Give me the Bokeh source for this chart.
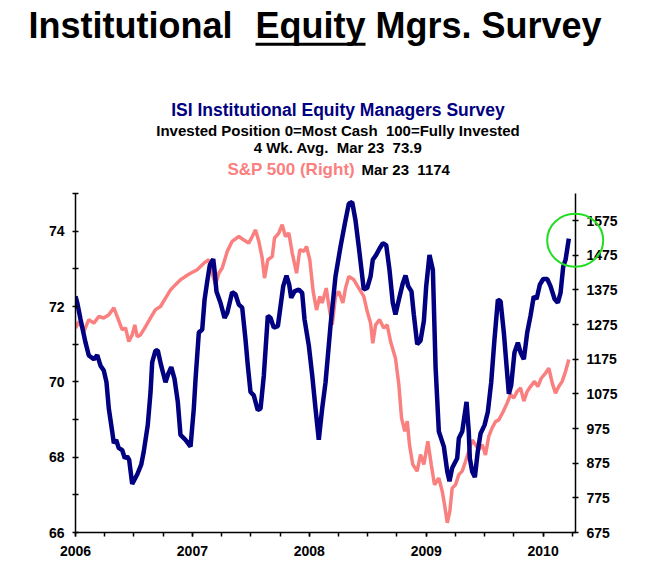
from bokeh.embed import file_html
from bokeh.resources import INLINE
from bokeh.models import ColumnDataSource, Range1d, LinearAxis, FixedTicker
from bokeh.core.properties import value
from bokeh.plotting import figure

# ISI survey, 4 wk avg (left axis), dates as decimal years
survey_dates = [
    2006.000, 2006.015, 2006.043, 2006.086, 2006.114, 2006.157, 2006.186, 2006.214,
    2006.242, 2006.265, 2006.285, 2006.314, 2006.328, 2006.348, 2006.370, 2006.399,
    2006.422, 2006.442, 2006.459, 2006.485, 2006.528, 2006.562, 2006.584, 2006.618,
    2006.642, 2006.656, 2006.684, 2006.704, 2006.733, 2006.770, 2006.793, 2006.819,
    2006.847, 2006.875, 2006.898, 2006.941, 2006.984, 2007.012, 2007.027, 2007.055,
    2007.084, 2007.104, 2007.127, 2007.149, 2007.178, 2007.189, 2007.206, 2007.240,
    2007.275, 2007.298, 2007.340, 2007.369, 2007.397, 2007.426, 2007.454, 2007.474,
    2007.497, 2007.525, 2007.559, 2007.583, 2007.611, 2007.645, 2007.668, 2007.696,
    2007.731, 2007.754, 2007.777, 2007.805, 2007.828, 2007.845, 2007.873, 2007.910,
    2007.939, 2007.959, 2007.996, 2008.025, 2008.053, 2008.081, 2008.110, 2008.139,
    2008.181, 2008.224, 2008.267, 2008.304, 2008.338, 2008.367, 2008.395, 2008.423,
    2008.466, 2008.495, 2008.524, 2008.543, 2008.572, 2008.601, 2008.629, 2008.658,
    2008.686, 2008.714, 2008.737, 2008.766, 2008.800, 2008.823, 2008.846, 2008.874,
    2008.894, 2008.923, 2008.951, 2008.980, 2009.000, 2009.028, 2009.057, 2009.080,
    2009.108, 2009.151, 2009.180, 2009.199, 2009.222, 2009.265, 2009.279, 2009.308,
    2009.345, 2009.364, 2009.373, 2009.393, 2009.416, 2009.441, 2009.465, 2009.499,
    2009.527, 2009.556, 2009.584, 2009.613, 2009.636, 2009.664, 2009.687, 2009.707,
    2009.727, 2009.755, 2009.784, 2009.807, 2009.835, 2009.864, 2009.892, 2009.920,
    2009.944, 2009.972, 2010.001, 2010.035, 2010.063, 2010.098, 2010.126, 2010.149,
    2010.172, 2010.192, 2010.220,
]
survey_values = [
    72.27, 72.10, 71.66, 71.04, 70.70, 70.60, 70.71, 70.43,
    70.30, 69.99, 69.29, 68.68, 68.37, 68.46, 68.24, 68.19,
    67.97, 68.02, 67.93, 67.29, 67.54, 67.80, 68.15, 68.85,
    69.73, 70.52, 70.83, 70.83, 70.43, 69.99, 70.21, 70.39,
    70.08, 69.47, 68.59, 68.46, 68.28, 69.29, 70.08, 71.31,
    71.39, 72.18, 72.67, 73.10, 73.26, 72.97, 72.40, 72.10,
    71.70, 71.83, 72.38, 72.32, 72.05, 71.97, 71.13, 70.43,
    69.73, 69.64, 69.25, 69.29, 70.17, 71.75, 71.70, 71.44,
    71.48, 72.01, 72.54, 72.82, 72.58, 72.23, 72.40, 72.45,
    72.36, 71.66, 70.96, 70.17, 69.29, 68.46, 69.29, 69.99,
    71.48, 72.80, 73.59, 74.20, 74.73, 74.77, 74.29, 73.59,
    72.45, 72.49, 72.80, 73.24, 73.37, 73.54, 73.68, 73.63,
    72.97, 72.10, 71.79, 72.18, 72.62, 72.82, 72.54, 72.40,
    71.79, 71.00, 71.09, 71.62, 72.54, 73.37, 72.97, 70.40,
    68.68, 68.28, 67.62, 67.36, 67.71, 67.97, 68.50, 68.68,
    69.47, 68.68, 67.97, 67.62, 67.47, 68.15, 68.63, 68.85,
    69.20, 69.99, 71.13, 72.18, 72.14, 71.31, 70.43, 69.68,
    69.91, 70.78, 71.04, 70.78, 70.60, 71.31, 71.75, 72.27,
    72.20, 72.58, 72.73, 72.73, 72.54, 72.20, 72.10, 72.36,
    73.06, 73.24, 73.80,
]

# S&P 500 (right axis)
spx_dates = [
    2006.000, 2006.028, 2006.071, 2006.114, 2006.157, 2006.199, 2006.242, 2006.285,
    2006.328, 2006.357, 2006.399, 2006.428, 2006.456, 2006.485, 2006.507, 2006.528,
    2006.556, 2006.599, 2006.642, 2006.684, 2006.727, 2006.770, 2006.813, 2006.855,
    2006.898, 2006.941, 2006.984, 2007.041, 2007.098, 2007.140, 2007.169, 2007.198,
    2007.226, 2007.255, 2007.298, 2007.340, 2007.397, 2007.440, 2007.482, 2007.512,
    2007.540, 2007.568, 2007.597, 2007.617, 2007.645, 2007.683, 2007.702, 2007.739,
    2007.768, 2007.796, 2007.825, 2007.854, 2007.891, 2007.919, 2007.953, 2007.976,
    2008.004, 2008.033, 2008.062, 2008.090, 2008.110, 2008.145, 2008.173, 2008.196,
    2008.224, 2008.252, 2008.287, 2008.310, 2008.338, 2008.381, 2008.423, 2008.466,
    2008.495, 2008.524, 2008.543, 2008.567, 2008.601, 2008.637, 2008.666, 2008.695,
    2008.737, 2008.766, 2008.789, 2008.817, 2008.838, 2008.857, 2008.885, 2008.923,
    2008.951, 2008.980, 2009.014, 2009.043, 2009.071, 2009.108, 2009.137, 2009.157,
    2009.180, 2009.202, 2009.222, 2009.251, 2009.279, 2009.308, 2009.336, 2009.364,
    2009.393, 2009.422, 2009.450, 2009.479, 2009.507, 2009.535, 2009.564, 2009.593,
    2009.621, 2009.659, 2009.693, 2009.721, 2009.749, 2009.778, 2009.807, 2009.835,
    2009.864, 2009.892, 2009.926, 2009.955, 2009.984, 2010.021, 2010.049, 2010.078,
    2010.106, 2010.134, 2010.163, 2010.192, 2010.220,
]
spx_values = [
    1264, 1284, 1255, 1289, 1279, 1298, 1294, 1303,
    1323, 1298, 1260, 1265, 1226, 1245, 1274, 1240,
    1245, 1269, 1294, 1318, 1327, 1351, 1375, 1390,
    1404, 1414, 1423, 1433, 1452, 1462, 1423, 1390,
    1423, 1438, 1486, 1515, 1529, 1519, 1510, 1529,
    1548, 1515, 1467, 1409, 1462, 1471, 1524, 1539,
    1563, 1529, 1539, 1481, 1423, 1491, 1486, 1500,
    1462, 1370, 1317, 1356, 1337, 1380, 1317, 1274,
    1356, 1370, 1337, 1380, 1414, 1404, 1380, 1356,
    1313, 1279, 1221, 1274, 1289, 1265, 1274, 1226,
    1178, 1101, 1005, 967, 996, 928, 871, 852,
    900, 871, 938, 871, 813, 832, 794, 755,
    703, 736, 803, 813, 842, 852, 880, 909,
    942, 928, 914, 928, 899, 952, 977, 995,
    1000, 1024, 1049, 1073, 1063, 1082, 1092, 1054,
    1082, 1096, 1111, 1096, 1120, 1135, 1149, 1106,
    1077, 1096, 1111, 1140, 1174,
]

year_ticks = [2006, 2007, 2008, 2009, 2010]
quarter_ticks = [2006 + q / 4 for q in range(18)]
left_ticks = [66, 68, 70, 72, 74]
left_minor = [67, 69, 71, 73, 75]
right_ticks = [675, 775, 875, 975, 1075, 1175, 1275, 1375, 1475, 1575]

NAVY = "#000080"
PINK = "#FA8080"
FONT = "Liberation Sans"
SP = "\u00a0"  # keeps the double spaces of the original header

X0, X1 = 2006, 2010.277
Y0, Y1 = 66, 75

p = figure(width=658, height=571, output_backend="svg", toolbar_location=None,
           x_range=Range1d(X0, X1), y_range=Range1d(Y0, Y1),
           min_border_left=75, min_border_right=83, min_border_top=193,
           min_border_bottom=39, x_axis_type=None, y_axis_type=None)
p.outline_line_color = None
p.grid.visible = False
p.extra_y_ranges = {"spx": Range1d(675, 1653)}


def style_axis(ax):
    ax.axis_line_color = "black"
    ax.axis_line_width = 1.5
    ax.major_tick_line_color = "black"
    ax.major_tick_line_width = 1.5
    ax.minor_tick_line_color = "black"
    ax.minor_tick_line_width = 1.5
    ax.major_tick_in = 3
    ax.major_tick_out = 3
    ax.major_label_text_font = FONT
    ax.major_label_text_font_style = "bold"
    ax.major_label_text_font_size = "14px"
    ax.major_label_text_color = "black"


xaxis = LinearAxis(ticker=FixedTicker(ticks=year_ticks, minor_ticks=quarter_ticks))
style_axis(xaxis)
xaxis.major_tick_in = 0
xaxis.major_tick_out = 4
xaxis.minor_tick_in = 0
xaxis.minor_tick_out = 4
xaxis.major_label_standoff = 9
p.add_layout(xaxis, "below")

laxis = LinearAxis(ticker=FixedTicker(ticks=left_ticks, minor_ticks=left_minor))
style_axis(laxis)
laxis.minor_tick_in = 3
laxis.minor_tick_out = 3
laxis.major_label_standoff = 8
p.add_layout(laxis, "left")

raxis = LinearAxis(y_range_name="spx", ticker=FixedTicker(ticks=right_ticks, minor_ticks=[]))
style_axis(raxis)
raxis.major_label_standoff = 8
p.add_layout(raxis, "right")

spx_src = ColumnDataSource(dict(x=spx_dates, y=spx_values))
svy_src = ColumnDataSource(dict(x=survey_dates, y=survey_values))
p.line("x", "y", source=spx_src, y_range_name="spx", line_color=PINK, line_width=3.5)
p.line("x", "y", source=svy_src, line_color=NAVY, line_width=4.5)


# titles: anchored at the frame's top-left corner, placed with pixel offsets,
# drawn at overlay level so they are not clipped to the frame
def txt(dx, dy, text, size, color="black", align="left"):
    p.text(x=[X0], y=[Y1], text=[text], x_offset=dx, y_offset=dy,
           text_font=value(FONT), text_font_style="bold", text_font_size=size,
           text_color=color, text_align=align, text_baseline="alphabetic",
           level="overlay")


txt(-47, -168, "Institutional", "36px")
txt(180, -168, "Equity", "36px")
txt(300, -168, "Mgrs. Survey", "36px")

# pixel -> data helpers for the two decorations
sx = (X1 - X0) / 500.0
sy = (Y1 - Y0) / 339.0
p.rect(x=[X0 + 235 * sx], y=[Y1 + 149.2 * sy], width=110, height=3,
       width_units="screen", height_units="screen",
       fill_color="black", line_color=None, level="overlay")

txt(262.5, -84, "ISI Institutional Equity Managers Survey", "17.5px", NAVY, "center")
txt(262.5, -63, "Invested Position 0=Most Cash" + SP * 2 + "100=Fully Invested", "15px", "black", "center")
txt(262.5, -46, "4 Wk. Avg." + SP * 2 + "Mar 23" + SP * 2 + "73.9", "15px", "black", "center")
txt(152, -24, "S&P 500 (Right)", "17px", PINK)
txt(286, -24, "Mar 23" + SP * 2 + "1174", "15px")

# green highlight circle around the latest reading
p.ellipse(x=[X0 + 499.7 * sx], y=[Y1 - 46.7 * sy], width=56, height=53,
          width_units="screen", height_units="screen",
          fill_color=None, line_color="#22DD22", line_width=2, level="overlay")

open("out.html", "w").write(file_html(p, INLINE))
